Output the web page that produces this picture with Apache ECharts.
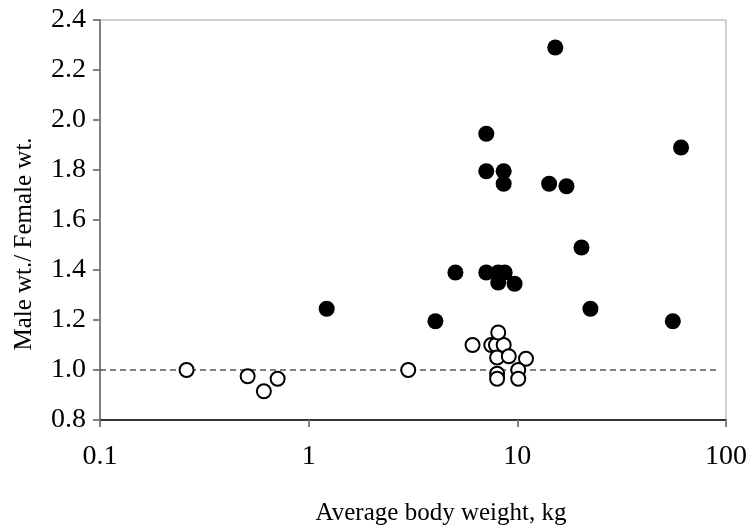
<!DOCTYPE html>
<html>
<head>
<meta charset="utf-8">
<script src="https://cdn.jsdelivr.net/npm/echarts@6/dist/echarts.min.js"></script>
<style>
  html, body { margin: 0; padding: 0; background: #fff; }
  #chart { width: 755px; height: 525px; }
</style>
</head>
<body>
<div id="chart"></div>
<script>
// Species where males are clearly heavier (filled markers)
const dimorphicMass  = [15.2, 7.1, 60.9, 7.1, 8.6, 8.6, 14.2, 17.2, 20.3, 5.05, 7.1, 8.1, 8.7, 8.1, 9.7, 22.4, 4.05, 55.6, 1.22];
const dimorphicRatio = [2.29, 1.945, 1.89, 1.795, 1.795, 1.745, 1.745, 1.735, 1.49, 1.39, 1.39, 1.39, 1.39, 1.35, 1.345, 1.245, 1.195, 1.195, 1.245];

// Species with similar-sized sexes (open markers)
const monomorphicMass  = [0.26, 0.51, 0.61, 0.71, 3.0, 6.1, 7.5, 7.9, 8.6, 8.1, 8.0, 9.1, 11.0, 8.0, 8.0, 10.1, 10.1];
const monomorphicRatio = [1.00, 0.975, 0.915, 0.965, 1.00, 1.10, 1.10, 1.10, 1.10, 1.15, 1.05, 1.055, 1.045, 0.985, 0.965, 1.00, 0.965];

// Equal-weight reference line
const parityRange = [0.1, 92];
const parityRatio = 1.0;

// Axis ticks
const xTicks = [0.1, 1, 10, 100];
const yMin = 0.8, yMax = 2.4, yStep = 0.2;

const xTitle = 'Average body weight, kg';
const yTitle = 'Male wt./ Female wt.';

const pairs = (xs, ys) => xs.map((x, i) => [x, ys[i]]);
const serif = '"Liberation Serif", "Times New Roman", serif';

const chart = echarts.init(document.getElementById('chart'), null, { renderer: 'canvas' });

chart.setOption({
  animation: false,
  backgroundColor: '#ffffff',
  grid: {
    left: 100, right: 29, top: 20, bottom: 105,
    show: true, borderColor: '#a0a0a0', borderWidth: 1, backgroundColor: 'transparent'
  },
  xAxis: {
    type: 'log',
    logBase: 10,
    min: xTicks[0],
    max: xTicks[xTicks.length - 1],
    splitLine: { show: false },
    axisLine: { show: true, lineStyle: { color: '#000', width: 1.5 } },
    axisTick: { show: true, length: 7, inside: false, lineStyle: { color: '#808080', width: 2 } },
    minorTick: { show: false },
    axisLabel: {
      margin: 23,
      color: '#000',
      fontFamily: serif,
      fontSize: 28,
      formatter: v => {
        const n = Math.round(Math.log10(v));
        const p = Math.pow(10, n);
        return p < 1 ? p.toFixed(-n) : String(p);
      }
    }
  },
  yAxis: {
    type: 'value',
    min: yMin,
    max: yMax,
    interval: yStep,
    splitLine: { show: false },
    axisLine: { show: true, lineStyle: { color: '#808080', width: 2 } },
    axisTick: { show: true, length: 7, lineStyle: { color: '#808080', width: 2 } },
    axisLabel: {
      margin: 14,
      color: '#000',
      fontFamily: serif,
      fontSize: 28,
      formatter: v => v.toFixed(1)
    }
  },
  graphic: [
    {
      type: 'text',
      x: 441, y: 513,
      style: {
        text: xTitle, fill: '#000', font: '25px ' + serif,
        textAlign: 'center', textVerticalAlign: 'middle'
      }
    },
    {
      type: 'text',
      x: 24, y: 244,
      rotation: Math.PI / 2,
      style: {
        text: yTitle, fill: '#000', font: '25px ' + serif,
        textAlign: 'center', textVerticalAlign: 'middle'
      }
    }
  ],
  series: [
    {
      type: 'line',
      data: parityRange.map(x => [x, parityRatio]),
      symbol: 'none',
      lineStyle: { color: '#000', width: 1.2, type: [6, 4] },
      z: 1,
      silent: true
    },
    {
      type: 'scatter',
      data: pairs(dimorphicMass, dimorphicRatio),
      symbol: 'circle',
      symbolSize: 16,
      itemStyle: { color: '#000', borderWidth: 0, opacity: 1 },
      z: 3
    },
    {
      type: 'scatter',
      data: pairs(monomorphicMass, monomorphicRatio),
      symbol: 'circle',
      symbolSize: 14,
      itemStyle: { color: '#fff', borderColor: '#000', borderWidth: 2, opacity: 1 },
      z: 4
    }
  ]
});
</script>
</body>
</html>
